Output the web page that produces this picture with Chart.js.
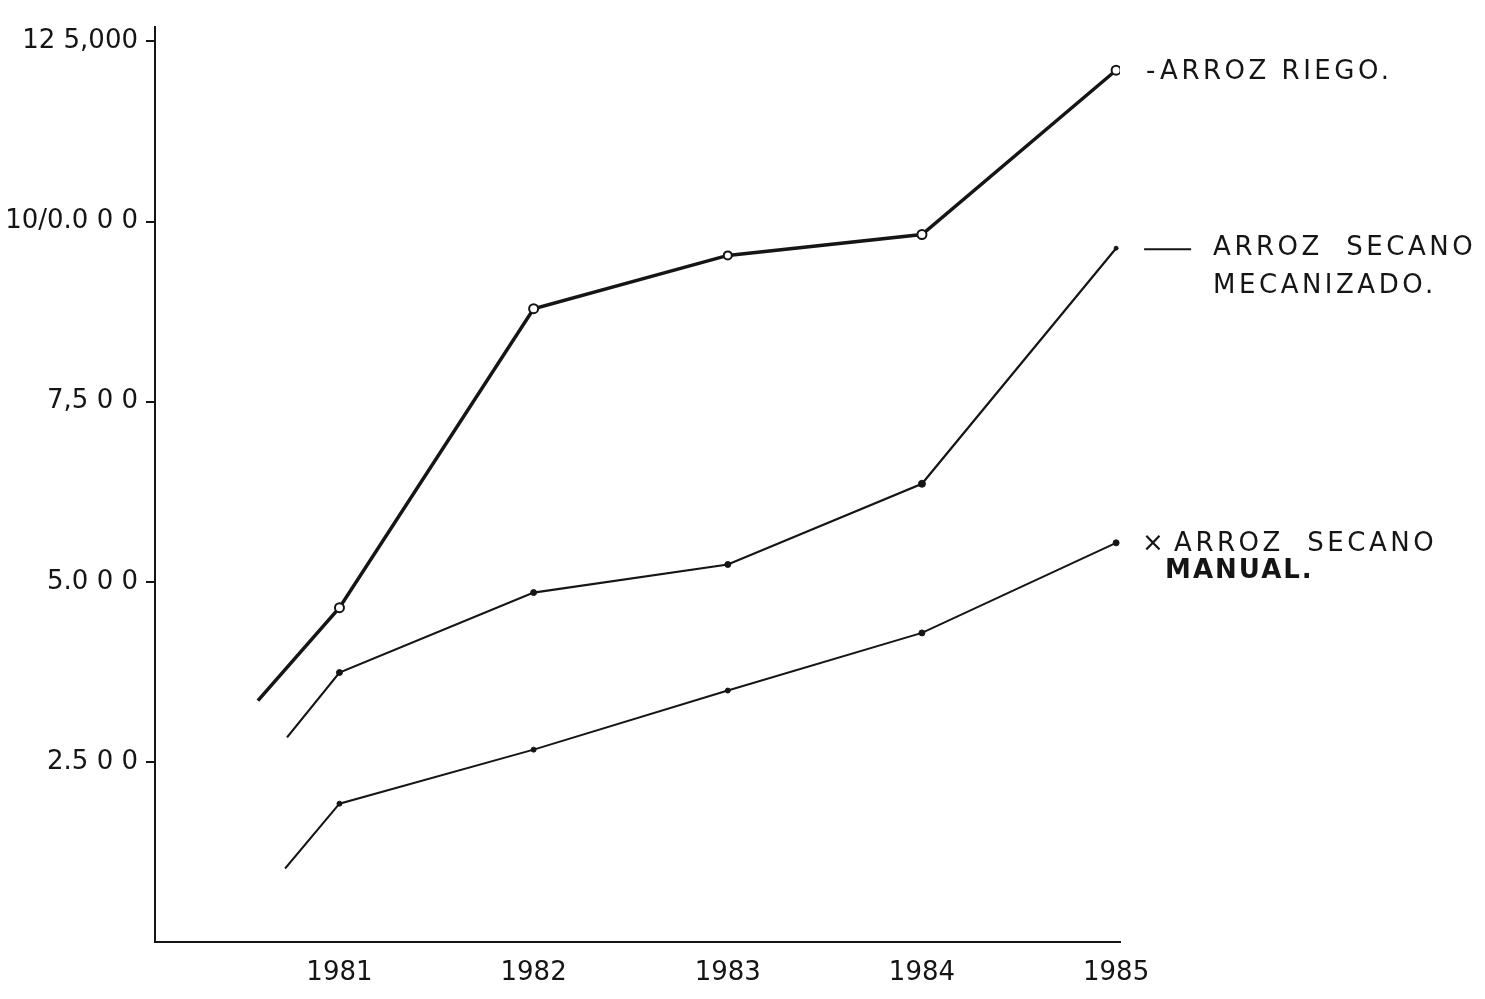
<!DOCTYPE html>
<html>
<head>
<meta charset="utf-8">
<script src="https://cdn.jsdelivr.net/npm/chart.js@4/dist/chart.umd.min.js"></script>
<style>
  body { margin: 0; background: #fff; }
  #wrap { width: 1485px; height: 999px; position: relative; }
</style>
</head>
<body>
<div id="wrap"><canvas id="arroz"></canvas></div>
<script>
// values (units not given)
const years = [1981, 1982, 1983, 1984, 1985];
const xLabels = ["1981", "1982", "1983", "1984", "1985"];
const yTicks = [2500, 5000, 7500, 10000, 12500];
const yLabels = ["2.5 0 0", "5.0 0 0", "7,5 0 0", "10/0.0 0 0", "12 5,000"];

const riegoX = [1980.58, 1981, 1982, 1983, 1984, 1985];
const riegoY = [3350, 4640, 8790, 9530, 9820, 12100];

const mecanizadoX = [1980.73, 1981, 1982, 1983, 1984, 1985];
const mecanizadoY = [2840, 3740, 4850, 5240, 6360, 9630];

const manualX = [1980.72, 1981, 1982, 1983, 1984, 1985];
const manualY = [1020, 1920, 2670, 3490, 4290, 5540];

const ink = "#151515";
const font = "'DejaVu Sans', sans-serif";

function toPoints(xs, ys) {
  return xs.map((x, i) => ({ x, y: ys[i] }));
}

// text written next to the end of each line
const notes = [
  { lead: "-", lines: ["ARROZ RIEGO."], bold: [false], dx: 30, dy: 2, textDx: 44 },
  { lead: "dash", lines: ["ARROZ  SECANO", "MECANIZADO."], bold: [false, false], dx: 28, dy: 0, textDx: 97 },
  { lead: "×", lines: ["ARROZ  SECANO", "MANUAL."], bold: [false, true], dx: 26, dy: 1, textDx: 58 },
];

const endNotes = {
  id: "endNotes",
  afterDatasetsDraw(chart) {
    const { ctx } = chart;
    ctx.save();
    ctx.fillStyle = ink;
    ctx.strokeStyle = ink;
    ctx.textBaseline = "middle";
    notes.forEach((note, i) => {
      const meta = chart.getDatasetMeta(i);
      const last = meta.data[meta.data.length - 1];
      const x0 = last.x;
      const y0 = last.y + note.dy;
      ctx.letterSpacing = "3px";
      ctx.font = "26px " + font;
      if (note.lead === "dash") {
        ctx.lineWidth = 2;
        ctx.beginPath();
        ctx.moveTo(x0 + note.dx, y0 + 1);
        ctx.lineTo(x0 + note.dx + 47, y0 + 1);
        ctx.stroke();
      } else {
        ctx.fillText(note.lead, x0 + note.dx, y0);
      }
      note.lines.forEach((line, k) => {
        const bold = note.bold[k];
        ctx.font = (bold ? "bold " : "") + "26px " + font;
        ctx.letterSpacing = bold ? "2px" : "3.5px";
        const lx = x0 + note.textDx - (bold ? 9 : 0);
        ctx.fillText(line, lx, y0 + k * (bold ? 27 : 38));
      });
    });
    ctx.restore();
  },
};

new Chart(document.getElementById("arroz"), {
  type: "line",
  data: {
    datasets: [
      {
        label: "Arroz riego",
        data: toPoints(riegoX, riegoY),
        borderColor: ink,
        borderWidth: 3.5,
        pointRadius: [0, 4.5, 4.5, 4, 4.5, 4.5],
        pointBackgroundColor: "#fff",
        pointBorderColor: ink,
        pointBorderWidth: 2,
        tension: 0,
      },
      {
        label: "Arroz secano mecanizado",
        data: toPoints(mecanizadoX, mecanizadoY),
        borderColor: ink,
        borderWidth: 2.2,
        pointRadius: [0, 3, 3, 3, 3.5, 2],
        pointBackgroundColor: ink,
        pointBorderColor: ink,
        pointBorderWidth: 1,
        tension: 0,
      },
      {
        label: "Arroz secano manual",
        data: toPoints(manualX, manualY),
        borderColor: ink,
        borderWidth: 2,
        pointRadius: [0, 2.5, 2.5, 2.5, 3, 3],
        pointBackgroundColor: ink,
        pointBorderColor: ink,
        pointBorderWidth: 1,
        tension: 0,
      },
    ],
  },
  options: {
    responsive: true,
    maintainAspectRatio: false,
    animation: false,
    layout: { padding: { top: 27, right: 365, left: 0, bottom: 0 } },
    plugins: { legend: { display: false }, tooltip: { enabled: false } },
    scales: {
      x: {
        type: "linear",
        min: 1980.05,
        max: 1985.02,
        afterFit: (scale) => { scale.height = 57; },
        afterBuildTicks: (scale) => { scale.ticks = years.map((v) => ({ value: v })); },
        grid: { display: false, drawTicks: false },
        border: { display: true, color: ink, width: 2 },
        ticks: {
          color: ink,
          padding: 16,
          font: { family: font, size: 26 },
          callback: (v) => xLabels[years.indexOf(v)] ?? "",
        },
      },
      y: {
        type: "linear",
        min: 0,
        max: 12700,
        afterFit: (scale) => { scale.width = 155; },
        afterBuildTicks: (scale) => { scale.ticks = yTicks.map((v) => ({ value: v })); },
        grid: { drawOnChartArea: false, drawTicks: true, tickLength: 9, color: ink, lineWidth: 2 },
        border: { display: true, color: ink, width: 2 },
        ticks: {
          color: ink,
          padding: 8,
          font: { family: font, size: 26 },
          callback: (v) => yLabels[yTicks.indexOf(v)] ?? "",
        },
      },
    },
  },
  plugins: [endNotes],
});
</script>
</body>
</html>
